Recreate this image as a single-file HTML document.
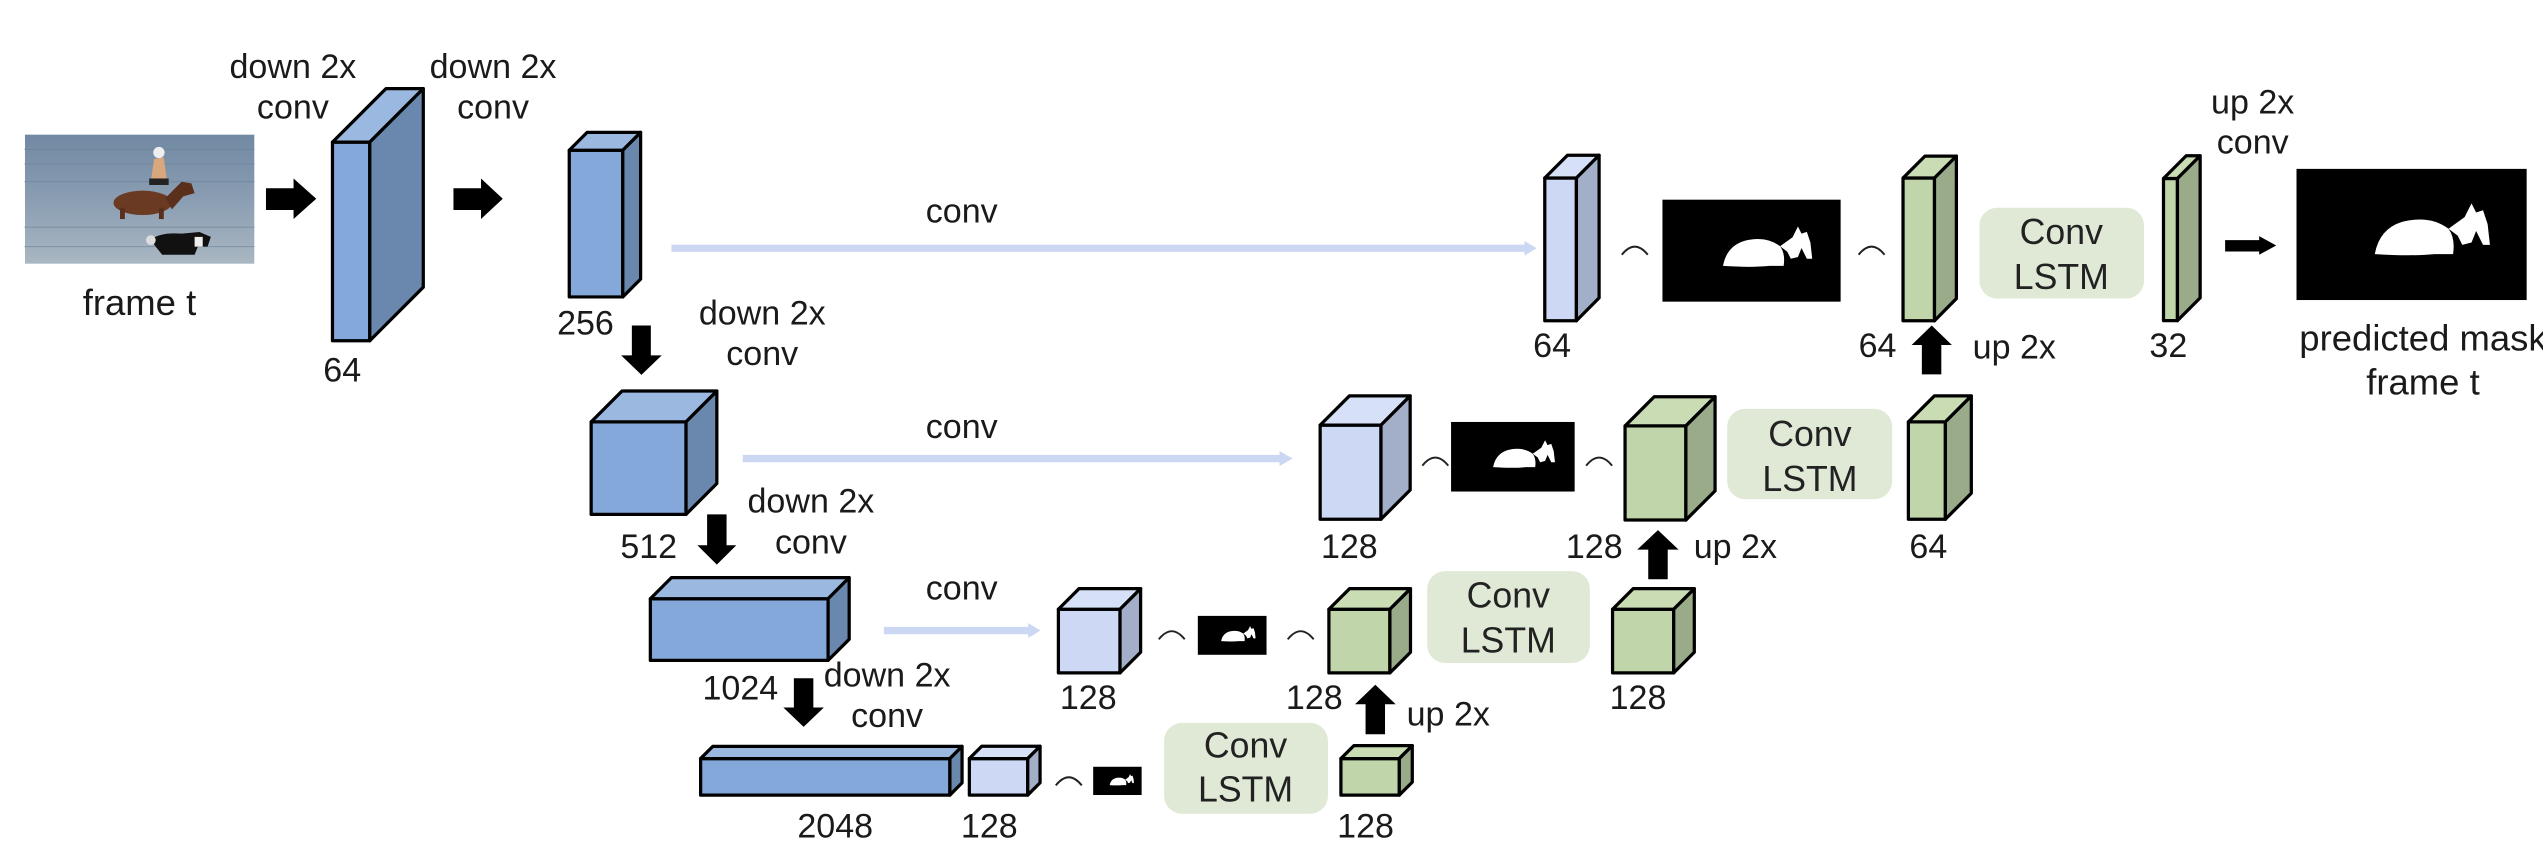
<!DOCTYPE html>
<html><head><meta charset="utf-8"><style>
html,body{margin:0;padding:0;background:#fff;}
svg{display:block;}
text{font-family:"Liberation Sans",sans-serif;fill:#1a1a1a;}
.l{font-size:21px;text-anchor:middle;}
.lg{font-size:22.5px;text-anchor:middle;}
.c{font-size:22px;text-anchor:middle;fill:#222;}
.b polygon,.b rect,.g polygon,.g rect,.w polygon,.w rect{stroke:#000;stroke-width:2;stroke-linejoin:round;}
.b .f{fill:#84a8d9}.b .t{fill:#9bb8e1}.b .s{fill:#6a88ae}
.w .f{fill:#ccd8f4}.w .t{fill:#d6e0f6}.w .s{fill:#a3aec8}
.g .f{fill:#c0d6aa}.g .t{fill:#c9dcb4}.g .s{fill:#9aab8a}
.arc{fill:none;stroke:#222;stroke-width:1.2}
.sk{stroke:#cbd7f3;stroke-width:4.5}
.box{fill:#dfe9d6}
</style></head><body>
<svg width="2543" height="847" viewBox="0 0 1568 522" preserveAspectRatio="none" xmlns="http://www.w3.org/2000/svg">
<defs>
<symbol id="mk" viewBox="0 0 100 57" preserveAspectRatio="none">
<rect x="0" y="0" width="100" height="57" fill="#000"/>
<path d="M34,37 Q36,26 46,23 Q58,20 66,26 Q69,30 68,37 L60,37 Q50,38 34,37 Z" fill="#fff"/>
<path d="M66,26 L73,21 L76,15 L78,19 L81,18 L83,24 L84,33 L81,33 L78,27 L76,32 L72,33 L70,29 Z" fill="#fff"/>
</symbol>
<linearGradient id="wat" x1="0" y1="0" x2="0" y2="1"><stop offset="0" stop-color="#7189a3"/><stop offset="0.5" stop-color="#8a9db2"/><stop offset="1" stop-color="#a9b7c2"/></linearGradient>
</defs>

<!-- photo -->
<rect x="15.4" y="83" width="141.4" height="79.5" fill="url(#wat)"/>
<g stroke="#6a7f96" stroke-width="0.6" opacity="0.6">
<line x1="15" y1="92" x2="157" y2="92"/><line x1="15" y1="101" x2="157" y2="101"/><line x1="15" y1="112" x2="157" y2="112"/><line x1="15" y1="140" x2="157" y2="140"/><line x1="15" y1="152" x2="157" y2="152"/>
</g>
<ellipse cx="88" cy="125" rx="18" ry="7.5" fill="#6b3a22"/>
<path d="M102,122 L112,112 L118,113 L120,119 L113,121 L106,129 Z" fill="#5a2f1c"/>
<rect x="74" y="128" width="3" height="7" fill="#5a2f1c"/><rect x="98" y="128" width="3" height="7" fill="#5a2f1c"/>
<path d="M93,112 L95,98 L101,97 L103,112 Z" fill="#d9a77e"/>
<rect x="92" y="110" width="12" height="4" fill="#222"/>
<circle cx="98" cy="94" r="3.5" fill="#eee"/>
<path d="M93,148 Q98,143 112,144 L123,143 L130,146 L128,152 L122,152 L120,157 L100,157 L96,152 Z" fill="#111"/>
<circle cx="93" cy="148" r="3" fill="#ddd"/>
<rect x="120" y="146" width="5" height="6" fill="#eee"/>

<text class="lg" x="86" y="194">frame t</text>

<!-- arrows right -->
<polygon points="164,116 181,116 181,110 195,122.5 181,135 181,129.4 164,129.4" fill="#000"/>
<polygon points="279.6,116 296.6,116 296.6,110 310,122.5 296.6,135 296.6,129.4 279.6,129.4" fill="#000"/>

<text class="l" x="180.6" y="48">down 2x</text><text class="l" x="180.6" y="73">conv</text>
<text class="l" x="304" y="48">down 2x</text><text class="l" x="304" y="73">conv</text>

<!-- encoder -->
<g class="b">
<rect class="f" x="205" y="87.6" width="23" height="122.4"/>
<polygon class="t" points="205,87.6 238,54.6 261,54.6 228,87.6"/>
<polygon class="s" points="228,87.6 261,54.6 261,177 228,210"/>
</g>
<text class="l" x="211" y="235">64</text>

<g class="b">
<rect class="f" x="351" y="92.6" width="33" height="90.4"/>
<polygon class="t" points="351,92.6 362,81.6 395,81.6 384,92.6"/>
<polygon class="s" points="384,92.6 395,81.6 395,172 384,183"/>
</g>
<text class="l" x="361" y="206">256</text>

<g class="b">
<rect class="f" x="364.5" y="260" width="58.5" height="57"/>
<polygon class="t" points="364.5,260 383.5,241 442,241 423,260"/>
<polygon class="s" points="423,260 442,241 442,298 423,317"/>
</g>
<text class="l" x="400" y="344">512</text>

<g class="b">
<rect class="f" x="401" y="369" width="109.6" height="38"/>
<polygon class="t" points="401,369 414,356 523.6,356 510.6,369"/>
<polygon class="s" points="510.6,369 523.6,356 523.6,394 510.6,407"/>
</g>
<text class="l" x="456.5" y="431">1024</text>

<g class="b">
<rect class="f" x="432" y="467.5" width="153.7" height="22.5"/>
<polygon class="t" points="432,467.5 439.5,460 593.2,460 585.7,467.5"/>
<polygon class="s" points="585.7,467.5 593.2,460 593.2,482.5 585.7,490"/>
</g>
<text class="l" x="515" y="516">2048</text>

<!-- down arrows -->
<polygon points="389.6,200.6 401.3,200.6 401.3,219 408,219 395.5,231 383,219 389.6,219" fill="#000"/>
<polygon points="436,317 448,317 448,336 454,336 442,348 430,336 436,336" fill="#000"/>
<polygon points="489.5,418 501.5,418 501.5,436 508,436 495.5,448 483,436 489.5,436" fill="#000"/>
<text class="l" x="470" y="200">down 2x</text><text class="l" x="470" y="225">conv</text>
<text class="l" x="500" y="316">down 2x</text><text class="l" x="500" y="341">conv</text>
<text class="l" x="547" y="423">down 2x</text><text class="l" x="547" y="448">conv</text>

<!-- skip connections -->
<line class="sk" x1="414" y1="153" x2="942" y2="153"/><polygon points="940,148.5 947.5,153 940,157.5" fill="#cbd7f3"/>
<text class="l" x="593" y="137">conv</text>
<line class="sk" x1="458" y1="282.6" x2="791" y2="282.6"/><polygon points="789,278 797,282.6 789,287.2" fill="#cbd7f3"/>
<text class="l" x="593" y="270">conv</text>
<line class="sk" x1="545" y1="388.6" x2="636" y2="388.6"/><polygon points="634,384 641.5,388.6 634,393.2" fill="#cbd7f3"/>
<text class="l" x="593" y="369.5">conv</text>

<!-- level 1 -->
<g class="w">
<rect class="f" x="952.5" y="109.7" width="19.5" height="88"/>
<polygon class="t" points="952.5,109.7 966.5,95.7 986,95.7 972,109.7"/>
<polygon class="s" points="972,109.7 986,95.7 986,183.6 972,197.7"/>
</g>
<text class="l" x="957" y="220">64</text>
<path class="arc" d="M1000,157 Q1008,147 1016,157"/>
<use href="#mk" x="1025" y="123" width="110" height="63"/>
<path class="arc" d="M1146,157 Q1154,147 1162,157"/>
<g class="g">
<rect class="f" x="1173.4" y="109.7" width="19.4" height="88"/>
<polygon class="t" points="1173.4,109.7 1186.9,96.2 1206.3,96.2 1192.8,109.7"/>
<polygon class="s" points="1192.8,109.7 1206.3,96.2 1206.3,184 1192.8,197.7"/>
</g>
<text class="l" x="1157.7" y="220">64</text>
<polygon points="1191.1,200.6 1203.5,212.6 1197,212.6 1197,230.7 1185,230.7 1185,212.6 1178.7,212.6" fill="#000"/>
<text class="l" x="1242" y="221">up 2x</text>
<rect class="box" x="1220.5" y="128" width="101.5" height="56" rx="11"/>
<text class="c" x="1271" y="150.5">Conv</text><text class="c" x="1271" y="178">LSTM</text>
<g class="g">
<rect class="f" x="1334" y="110" width="8.6" height="87.6"/>
<polygon class="t" points="1334,110 1348,96 1356.6,96 1342.6,110"/>
<polygon class="s" points="1342.6,110 1356.6,96 1356.6,183.6 1342.6,197.6"/>
</g>
<text class="l" x="1337" y="220">32</text>
<text class="l" x="1389" y="70">up 2x</text><text class="l" x="1389" y="94.6">conv</text>
<polygon points="1372,148 1393,148 1393,145.5 1403.5,151.3 1393,157 1393,155 1372,155" fill="#000"/>
<use href="#mk" x="1416" y="104" width="142" height="81"/>
<text class="lg" x="1494" y="216">predicted mask</text>
<text class="lg" x="1494" y="243">frame t</text>

<!-- level 2 -->
<g class="w">
<rect class="f" x="814" y="262" width="37.5" height="58"/>
<polygon class="t" points="814,262 832,244 869.5,244 851.5,262"/>
<polygon class="s" points="851.5,262 869.5,244 869.5,302 851.5,320"/>
</g>
<text class="l" x="832" y="344">128</text>
<path class="arc" d="M877,287 Q885,277 893,287"/>
<use href="#mk" x="894.7" y="260" width="76.3" height="43"/>
<path class="arc" d="M978,287 Q986,277 994,287"/>
<g class="g">
<rect class="f" x="1002" y="262.5" width="37.5" height="58"/>
<polygon class="t" points="1002,262.5 1020,244.5 1057.5,244.5 1039.5,262.5"/>
<polygon class="s" points="1039.5,262.5 1057.5,244.5 1057.5,302.5 1039.5,320.5"/>
</g>
<text class="l" x="983" y="344">128</text>
<polygon points="1022.3,326.7 1035,338.7 1028.3,338.7 1028.3,357 1016.3,357 1016.3,338.7 1009.5,338.7" fill="#000"/>
<text class="l" x="1070" y="344">up 2x</text>
<rect class="box" x="1065" y="252" width="101.7" height="55.6" rx="11"/>
<text class="c" x="1116" y="275">Conv</text><text class="c" x="1116" y="302.6">LSTM</text>
<g class="g">
<rect class="f" x="1176.7" y="260" width="22.8" height="60"/>
<polygon class="t" points="1176.7,260 1192.7,244 1215.5,244 1199.5,260"/>
<polygon class="s" points="1199.5,260 1215.5,244 1215.5,304 1199.5,320"/>
</g>
<text class="l" x="1189" y="344">64</text>

<!-- level 3 -->
<g class="w">
<rect class="f" x="652.6" y="375.5" width="38" height="39.2"/>
<polygon class="t" points="652.6,375.5 665.3,362.8 703.3,362.8 690.6,375.5"/>
<polygon class="s" points="690.6,375.5 703.3,362.8 703.3,402 690.6,414.7"/>
</g>
<text class="l" x="671" y="437">128</text>
<path class="arc" d="M714.5,394 Q722.5,384 730.5,394"/>
<use href="#mk" x="738.5" y="379.5" width="42.5" height="24.1"/>
<path class="arc" d="M794,394 Q802,384 810,394"/>
<g class="g">
<rect class="f" x="819.4" y="375.5" width="37.6" height="39.2"/>
<polygon class="t" points="819.4,375.5 832.1,362.8 869.7,362.8 857,375.5"/>
<polygon class="s" points="857,375.5 869.7,362.8 869.7,402 857,414.7"/>
</g>
<text class="l" x="810.4" y="437">128</text>
<polygon points="848,422 860.6,434 854,434 854,452.5 842,452.5 842,434 835.5,434" fill="#000"/>
<text class="l" x="893" y="447">up 2x</text>
<rect class="box" x="880" y="352" width="100.3" height="56.6" rx="11"/>
<text class="c" x="930" y="374.5">Conv</text><text class="c" x="930" y="402">LSTM</text>
<g class="g">
<rect class="f" x="994.3" y="375.5" width="37.7" height="39.2"/>
<polygon class="t" points="994.3,375.5 1007,362.8 1044.7,362.8 1032,375.5"/>
<polygon class="s" points="1032,375.5 1044.7,362.8 1044.7,402 1032,414.7"/>
</g>
<text class="l" x="1010" y="437">128</text>

<!-- level 4 -->
<g class="w">
<rect class="f" x="597.7" y="467.5" width="36" height="22.5"/>
<polygon class="t" points="597.7,467.5 605.3,459.9 641.3,459.9 633.7,467.5"/>
<polygon class="s" points="633.7,467.5 641.3,459.9 641.3,482.4 633.7,490"/>
</g>
<text class="l" x="610" y="516">128</text>
<path class="arc" d="M651,484 Q659,474 667,484"/>
<use href="#mk" x="674" y="472.5" width="30" height="17.5"/>
<rect class="box" x="717.8" y="445.5" width="101" height="56" rx="11"/>
<text class="c" x="768" y="467">Conv</text><text class="c" x="768" y="494">LSTM</text>
<g class="g">
<rect class="f" x="826.8" y="467.5" width="36" height="22.5"/>
<polygon class="t" points="826.8,467.5 834.8,459.5 870.8,459.5 862.8,467.5"/>
<polygon class="s" points="862.8,467.5 870.8,459.5 870.8,482 862.8,490"/>
</g>
<text class="l" x="842" y="516">128</text>
</svg>
</body></html>
